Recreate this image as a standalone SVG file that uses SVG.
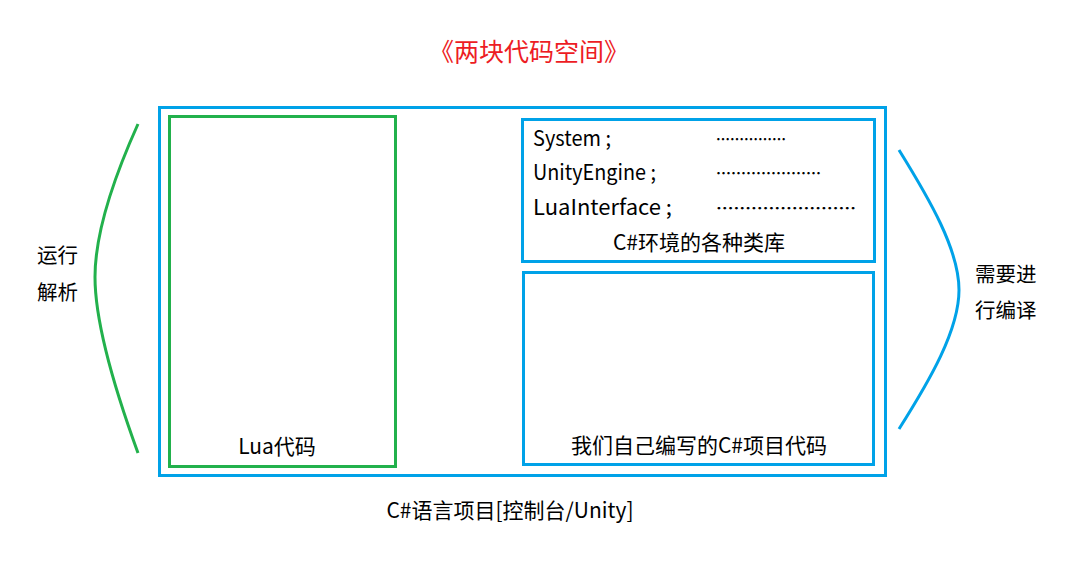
<svg xmlns="http://www.w3.org/2000/svg" width="1067" height="571" viewBox="0 0 1067 571">
<style>
text{font-family:"Noto Sans CJK SC","Noto Sans",sans-serif;fill:#000;font-size:21px}
.m{text-anchor:middle}
.blue{fill:none;stroke:#00a2e8;stroke-width:3}
.green{fill:none;stroke:#22b14c;stroke-width:3}
.title{fill:#ed1c24;font-size:25px}
.side{font-size:20.5px}
.dots{font-size:15px;font-weight:bold}
</style>
<rect width="1067" height="571" fill="#fff"/>
<text class="title m" x="529" y="61">《两块代码空间》</text>
<g id="project">
<rect class="blue" x="159.5" y="107.5" width="726" height="368"/>
<text class="m" x="510" y="518">C#语言项目[控制台/Unity]</text>
</g>
<g id="lua">
<rect class="green" x="169.5" y="116.5" width="226" height="350"/>
<text class="m" x="277" y="454">Lua代码</text>
</g>
<g id="libs">
<rect class="blue" x="522.5" y="119.5" width="352" height="142"/>
<text x="533" y="146" font-size="19" textLength="78" lengthAdjust="spacingAndGlyphs">System ;</text>
<text x="533" y="180" font-size="19" textLength="123" lengthAdjust="spacingAndGlyphs">UnityEngine ;</text>
<text x="533" y="215" font-size="20" textLength="139" lengthAdjust="spacingAndGlyphs">LuaInterface ;</text>
<text class="dots" x="716" y="145" textLength="70" lengthAdjust="spacingAndGlyphs">……………</text>
<text class="dots" x="716" y="179" textLength="105" lengthAdjust="spacingAndGlyphs">…………………</text>
<text class="dots" x="716" y="214" textLength="140" lengthAdjust="spacingAndGlyphs">……………………</text>
<text class="m" x="699" y="250">C#环境的各种类库</text>
</g>
<g id="own">
<rect class="blue" x="523.5" y="272.5" width="350" height="192"/>
<text class="m" x="699" y="453">我们自己编写的C#项目代码</text>
</g>
<g id="connectors">
<path class="green" d="M138 124 C115 175 95 230 95 277 C95 325 115 390 138 453"/>
<path class="blue" d="M899 150 C930 200 959 250 959 290 C959 330 930 380 899 429"/>
</g>
<g id="left-label">
<text class="side" x="37" y="263">运行</text>
<text class="side" x="37" y="300">解析</text>
</g>
<g id="right-label">
<text class="side" x="975" y="282">需要进</text>
<text class="side" x="975" y="318">行编译</text>
</g>
</svg>
